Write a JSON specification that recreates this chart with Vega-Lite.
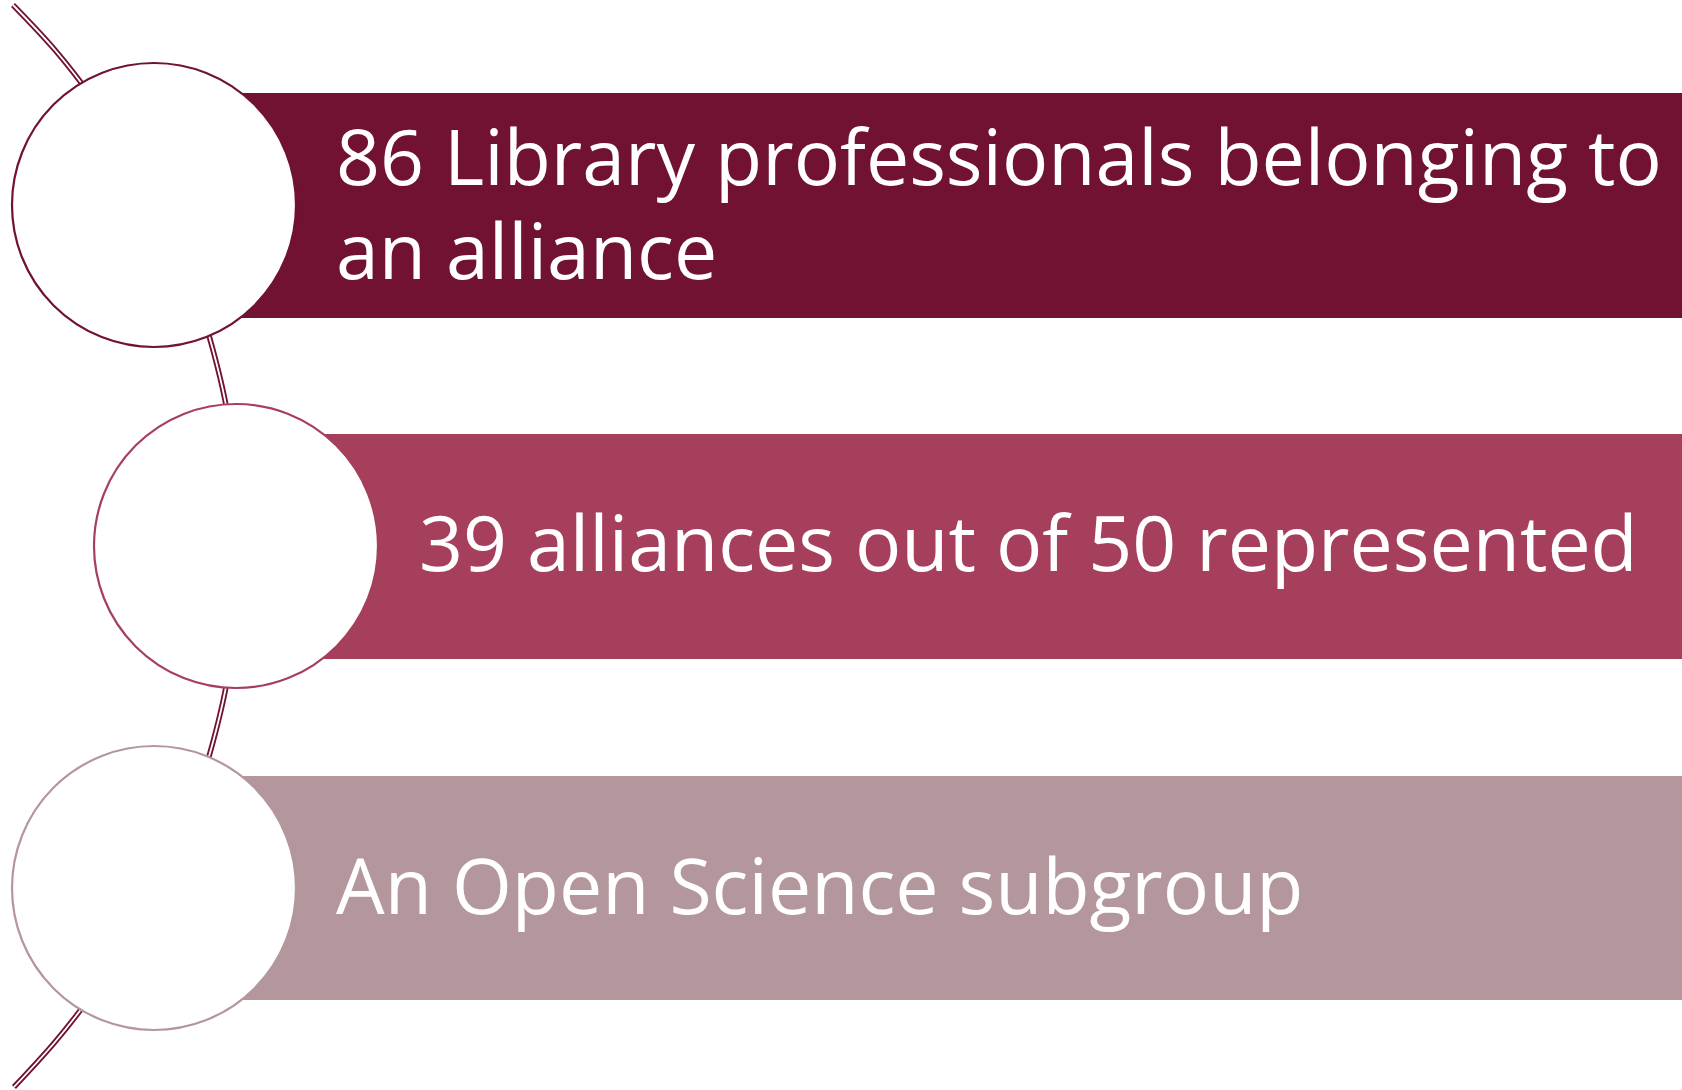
{
  "$schema": "https://vega.github.io/schema/vega-lite/v6.json",
  "width": 1682,
  "height": 1090,
  "autosize": {"type": "none"},
  "padding": 0,
  "background": "white",
  "config": {"view": {"stroke": null}},
  "datasets": {
    "items": [
      {"item": "A", "cx": 154, "cy": 205, "top": 93, "bottom": 318, "right": 1682, "tx": 336, "ty": 162, "label": "86 Library professionals belonging to\nan alliance"},
      {"item": "B", "cx": 236, "cy": 546, "top": 434, "bottom": 659, "right": 1682, "tx": 419, "ty": 548, "label": "39 alliances out of 50 represented"},
      {"item": "C", "cx": 154, "cy": 888, "top": 776, "bottom": 1000, "right": 1682, "tx": 336, "ty": 891, "label": "An Open Science subgroup"}
    ],
    "arc": [
      {"i": 0, "x": 13, "y": 5},
      {"i": 1, "x": 55, "y": 50},
      {"i": 2, "x": 94, "y": 100},
      {"i": 3, "x": 128, "y": 150},
      {"i": 4, "x": 156, "y": 200},
      {"i": 5, "x": 179, "y": 250},
      {"i": 6, "x": 198, "y": 300},
      {"i": 7, "x": 213, "y": 350},
      {"i": 8, "x": 225, "y": 400},
      {"i": 9, "x": 233, "y": 450},
      {"i": 10, "x": 237.6, "y": 500},
      {"i": 11, "x": 239, "y": 546},
      {"i": 12, "x": 237.6, "y": 592},
      {"i": 13, "x": 233, "y": 642},
      {"i": 14, "x": 225, "y": 692},
      {"i": 15, "x": 213, "y": 742},
      {"i": 16, "x": 198, "y": 792},
      {"i": 17, "x": 179, "y": 842},
      {"i": 18, "x": 156, "y": 892},
      {"i": 19, "x": 128, "y": 942},
      {"i": 20, "x": 94, "y": 992},
      {"i": 21, "x": 55, "y": 1042},
      {"i": 22, "x": 14, "y": 1087}
    ]
  },
  "layer": [
    {
      "data": {"name": "items"},
      "mark": {"type": "rect"},
      "encoding": {
        "x": {"field": "cx", "type": "quantitative", "scale": {"domain": [0, 1682], "nice": false, "zero": false}, "axis": null},
        "x2": {"field": "right"},
        "y": {"field": "top", "type": "quantitative", "scale": {"domain": [0, 1090], "nice": false, "zero": false, "reverse": true}, "axis": null},
        "y2": {"field": "bottom"},
        "color": {"field": "item", "type": "nominal", "scale": {"domain": ["A", "B", "C"], "range": ["#721232", "#A63F5C", "#B3979C"]}, "legend": null}
      }
    },
    {
      "data": {"name": "arc"},
      "mark": {"type": "line", "interpolate": "natural", "color": "#721232", "strokeWidth": 5.5},
      "encoding": {
        "x": {"field": "x", "type": "quantitative"},
        "y": {"field": "y", "type": "quantitative"},
        "order": {"field": "i", "type": "quantitative"}
      }
    },
    {
      "data": {"name": "arc"},
      "mark": {"type": "line", "interpolate": "natural", "color": "white", "strokeWidth": 1.8},
      "encoding": {
        "x": {"field": "x", "type": "quantitative"},
        "y": {"field": "y", "type": "quantitative"},
        "order": {"field": "i", "type": "quantitative"}
      }
    },
    {
      "data": {"name": "items"},
      "mark": {"type": "point", "shape": "circle", "filled": false, "fill": "white", "fillOpacity": 1, "strokeWidth": 2.2, "size": 80656, "opacity": 1},
      "encoding": {
        "x": {"field": "cx", "type": "quantitative"},
        "y": {"field": "cy", "type": "quantitative"},
        "stroke": {"field": "item", "type": "nominal", "scale": {"domain": ["A", "B", "C"], "range": ["#721232", "#A63F5C", "#B3979C"]}, "legend": null}
      }
    },
    {
      "data": {"name": "items"},
      "mark": {"type": "text", "align": "left", "baseline": "middle", "font": "Open Sans", "fontSize": 77, "lineHeight": 94, "lineBreak": "\n", "color": "white"},
      "encoding": {
        "x": {"field": "tx", "type": "quantitative"},
        "y": {"field": "ty", "type": "quantitative"},
        "text": {"field": "label", "type": "nominal"}
      }
    }
  ]
}
